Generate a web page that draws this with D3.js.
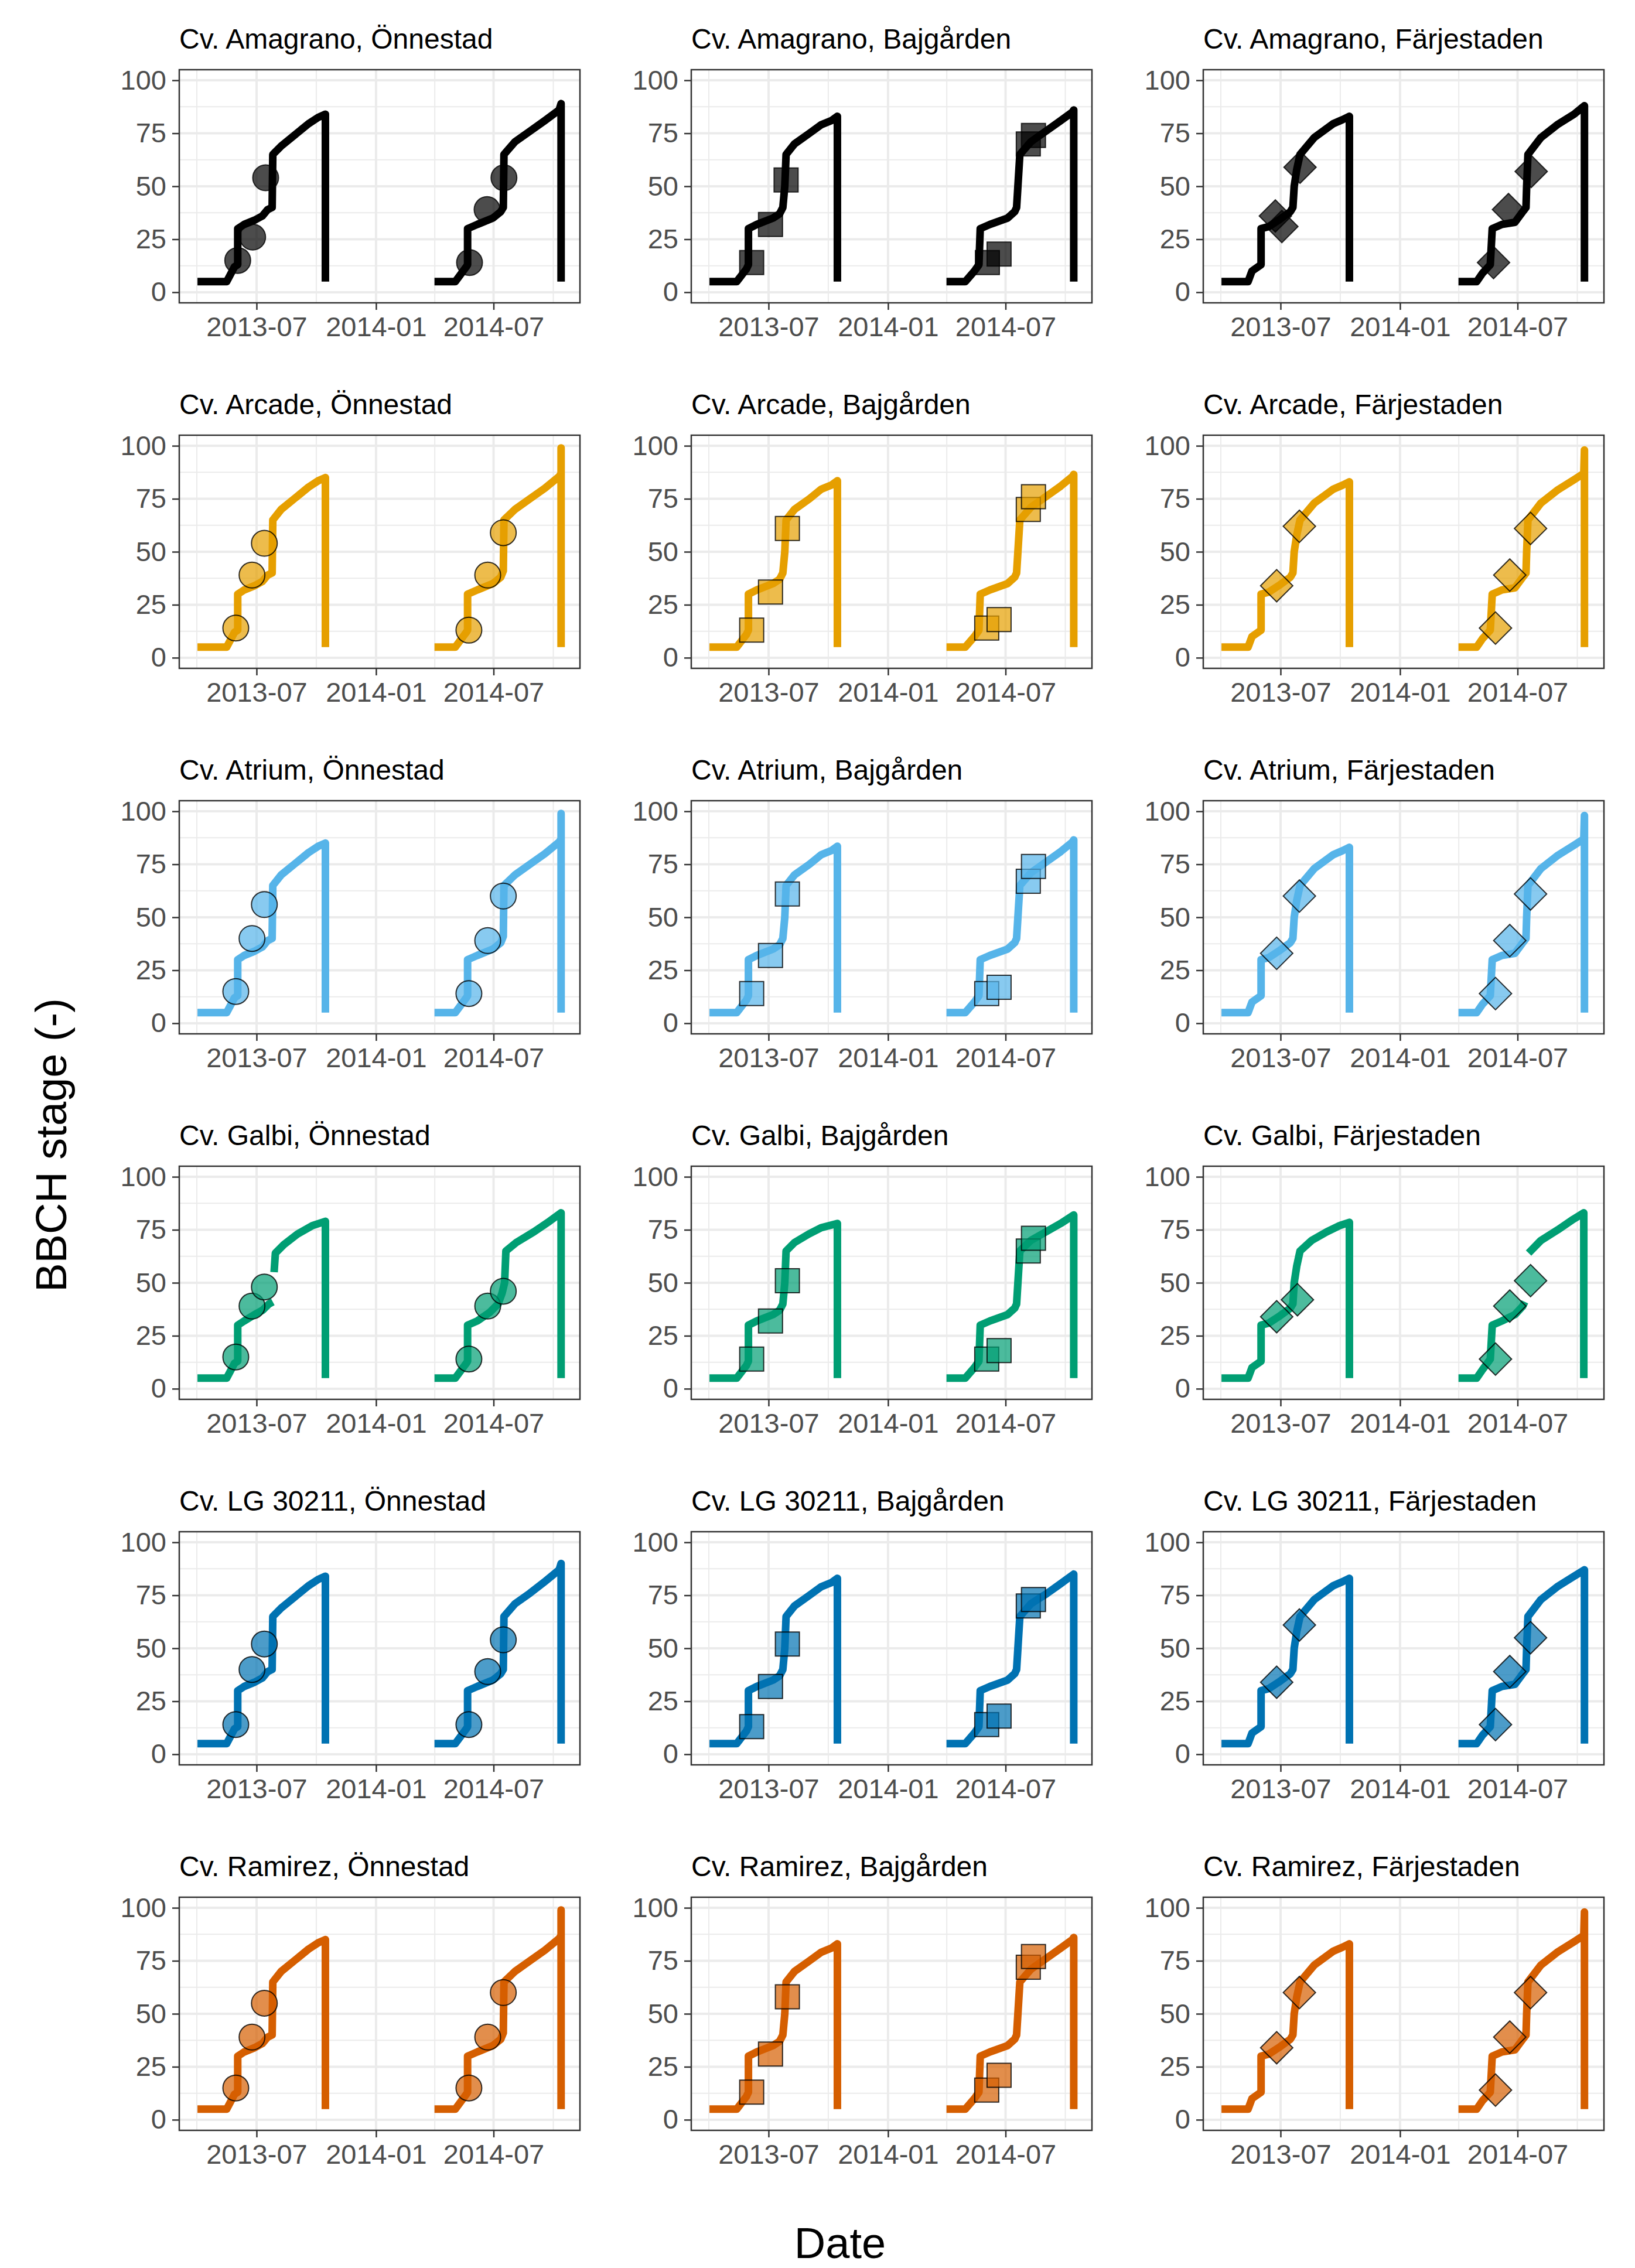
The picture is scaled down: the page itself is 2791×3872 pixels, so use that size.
<!DOCTYPE html>
<html lang="en">
<head>
<meta charset="UTF-8">
<title>BBCH stage by cultivar and site</title>
<script src="https://d3js.org/d3.v7.min.js"></script>
<style>
  body { margin: 0; background: #fff; }
  text { font-family: "Liberation Sans", Arial, Helvetica, sans-serif; }
</style>
</head>
<body>
<script>
// ---- data ----
var cultivars = ["Amagrano", "Arcade", "Atrium", "Galbi", "LG 30211", "Ramirez"];
var sites = ["Önnestad", "Bajgården", "Färjestaden"];
var cultivarColors = ["#000000", "#E69F00", "#56B4E9", "#009E73", "#0072B2", "#D55E00"];
var siteShapes = ["circle", "square", "diamond"];
var seasons = ["2013", "2014"];
var xTicks = ["2013-07-01", "2014-01-01", "2014-07-01"];
var yTicks = [0, 25, 50, 75, 100];
var yLimits = [0, 100];

// simulated BBCH lines, "MM-DD:value" per season, "/" = break in the line
var onnestadLines = [
  ["04-01:5 05-16:5 05-28:12 06-02:13 06-02:30 06-12:32 06-28:34 07-10:36 07-18:39 07-25:40 07-26:65 08-08:69 09-01:75 09-19:79.5 10-04:82.5 10-15:84 10-15:5",
   "04-01:5 05-03:5 05-20:12 05-22:13 05-22:30 06-06:32 06-30:35 07-12:38 07-16:40 07-17:65 08-03:71 08-26:76 09-18:81 10-10:86 10-13:89 10-13:5"],
  ["04-01:5 05-16:5 05-28:12 06-02:13 06-02:30 06-12:32 06-28:34 07-10:36 07-18:39 07-25:40 07-26:65 08-08:70 09-01:76 09-19:80.5 10-04:83.5 10-15:85 10-15:5",
   "04-01:5 05-03:5 05-20:12 05-22:13 05-22:30 06-06:32 06-30:35 07-12:38 07-16:41 07-17:65 08-03:70 08-26:75 09-18:80 10-10:85.5 10-13:87 10-13:99 10-13:5"],
  ["04-01:5 05-16:5 05-28:12 06-02:13 06-02:30 06-12:32 06-28:34 07-10:36 07-18:39 07-25:40 07-26:65 08-08:70 09-01:76 09-19:80.5 10-04:83.5 10-15:85 10-15:5",
   "04-01:5 05-03:5 05-20:12 05-22:13 05-22:30 06-06:32 06-30:35 07-12:38 07-16:41 07-17:65 08-03:70 08-26:75 09-18:80 10-10:85.5 10-13:87 10-13:99 10-13:5"],
  ["04-01:5 05-16:5 05-28:12 06-02:13 06-02:30 06-12:32 06-28:35 07-10:37 07-20:40 07-26:41 / 07-28:55 07-30:64 08-12:68 09-02:73 09-25:77 10-15:79 10-15:5",
   "04-01:5 05-03:5 05-20:12 05-22:13 05-22:30 06-06:32 06-25:36 07-08:40 07-14:45 07-18:50 07-20:65 08-05:69 09-01:74 09-25:79 10-13:83 10-13:5"],
  ["04-01:5 05-16:5 05-28:12 06-02:13 06-02:30 06-12:32 06-28:34 07-10:36 07-18:39 07-25:40 07-26:65 08-08:69 09-01:75 09-19:79.5 10-04:82.5 10-15:84 10-15:5",
   "04-01:5 05-03:5 05-20:12 05-22:13 05-22:30 06-06:32 06-30:35 07-12:38 07-16:40 07-17:65 08-03:71 08-26:76 09-18:81.5 10-10:87 10-13:90 10-13:5"],
  ["04-01:5 05-16:5 05-28:12 06-02:13 06-02:30 06-12:32 06-28:34 07-10:36 07-18:39 07-25:40 07-26:65 08-08:70 09-01:76 09-19:80.5 10-04:83.5 10-15:85 10-15:5",
   "04-01:5 05-03:5 05-20:12 05-22:13 05-22:30 06-06:32 06-30:35 07-12:38 07-16:41 07-17:65 08-03:70 08-26:75 09-18:80 10-10:85.5 10-13:87 10-13:99 10-13:5"]
];
var bajgardenLines = [
  ["04-01:5 05-13:5 05-28:11 05-31:13 05-31:30 06-13:32 07-08:35 07-18:37 07-23:40 07-26:50 07-28:65 08-10:70 09-02:75 09-20:79 10-06:81 10-15:83 10-15:5",
   "04-01:5 04-30:5 05-14:10 05-21:13 05-23:30 06-07:32 07-04:35 07-15:38 07-18:40 07-20:50 07-23:65 08-09:71 09-01:76 09-24:81 10-12:85 10-14:86 10-14:5"],
  ["04-01:5 05-13:5 05-28:11 05-31:13 05-31:30 06-13:32 07-08:35 07-18:37 07-23:40 07-26:50 07-28:65 08-10:70 09-02:75 09-20:79.5 10-06:81.5 10-15:83.5 10-15:5",
   "04-01:5 04-30:5 05-14:10 05-21:13 05-23:30 06-07:32 07-04:35 07-15:38 07-18:40 07-20:50 07-23:65 08-09:71 09-01:76 09-24:81 10-12:85.5 10-14:86.5 10-14:5"],
  ["04-01:5 05-13:5 05-28:11 05-31:13 05-31:30 06-13:32 07-08:35 07-18:37 07-23:40 07-26:50 07-28:65 08-10:70 09-02:75 09-20:79.5 10-06:81.5 10-15:83.5 10-15:5",
   "04-01:5 04-30:5 05-14:10 05-21:13 05-23:30 06-07:32 07-04:35 07-15:38 07-18:40 07-20:50 07-23:65 08-09:71 09-01:76 09-24:81 10-12:85.5 10-14:86.5 10-14:5"],
  ["04-01:5 05-13:5 05-28:11 05-31:13 05-31:30 06-13:32 07-08:35 07-18:37 07-23:40 07-26:50 07-28:65 08-10:69 09-01:73 09-20:76 10-15:78 10-15:5",
   "04-01:5 04-30:5 05-14:10 05-21:13 05-23:30 06-07:32 07-04:35 07-15:38 07-18:40 07-20:50 07-23:65 08-09:70 09-01:74 09-24:78 10-14:82 10-14:5"],
  ["04-01:5 05-13:5 05-28:11 05-31:13 05-31:30 06-13:32 07-08:35 07-18:37 07-23:40 07-26:50 07-28:65 08-10:70 09-02:75 09-20:79 10-06:81 10-15:83 10-15:5",
   "04-01:5 04-30:5 05-14:10 05-21:13 05-23:30 06-07:32 07-04:35 07-15:38 07-18:40 07-20:50 07-23:65 08-09:71 09-01:75.5 09-24:80.5 10-14:85 10-14:5"],
  ["04-01:5 05-13:5 05-28:11 05-31:13 05-31:30 06-13:32 07-08:35 07-18:37 07-23:40 07-26:50 07-28:65 08-10:70 09-02:75 09-20:79 10-06:81 10-15:83 10-15:5",
   "04-01:5 04-30:5 05-14:10 05-21:13 05-23:30 06-07:32 07-04:35 07-15:38 07-18:40 07-20:50 07-23:65 08-09:71 09-01:76 09-24:81 10-12:85 10-14:86 10-14:5"]
];
var farjestadenLines = [
  ["04-01:5 05-12:5 05-18:10 06-01:13 06-01:30 06-13:31 06-28:34 07-16:38 07-20:40 07-22:50 07-26:58 07-31:65 08-22:73 09-20:79.5 10-05:81.5 10-15:83 10-15:5",
   "04-01:5 04-29:5 05-08:9 05-20:13 05-23:30 06-07:32 06-27:33 07-09:38 07-14:40 07-15:50 07-17:65 08-06:73 08-31:79 09-26:84 10-08:87 10-12:88 10-12:5"],
  ["04-01:5 05-12:5 05-18:10 06-01:13 06-01:30 06-13:31 06-28:34 07-16:38 07-20:40 07-22:50 07-26:58 07-31:65 08-22:73 09-20:79.5 10-05:81.5 10-15:83 10-15:5",
   "04-01:5 04-29:5 05-08:9 05-20:13 05-23:30 06-07:32 06-27:33 07-09:38 07-14:40 07-15:50 07-17:65 08-06:73 08-31:79 09-26:84 10-11:87 10-12:98 10-12:5"],
  ["04-01:5 05-12:5 05-18:10 06-01:13 06-01:30 06-13:31 06-28:34 07-16:38 07-20:40 07-22:50 07-26:58 07-31:65 08-22:73 09-20:79.5 10-05:81.5 10-15:83 10-15:5",
   "04-01:5 04-29:5 05-08:9 05-20:13 05-23:30 06-07:32 06-27:33 07-09:38 07-14:40 07-15:50 07-17:65 08-06:73 08-31:79 09-26:84 10-11:87 10-12:98 10-12:5"],
  ["04-01:5 05-12:5 05-18:10 06-01:13 06-01:30 06-13:31 06-28:34 07-16:38 07-20:40 07-22:50 07-26:58 07-31:65 08-18:70 09-10:74 09-30:77 10-15:78.5 10-15:5",
   "04-01:5 04-29:5 05-08:9 05-20:14 05-23:30 06-07:32 06-27:35 07-09:39 07-12:41 / 07-18:64 08-06:70 09-01:75 09-25:80 10-11:83 10-11:5"],
  ["04-01:5 05-12:5 05-18:10 06-01:13 06-01:30 06-13:31 06-28:34 07-16:38 07-20:40 07-22:50 07-26:58 07-31:65 08-22:73 09-20:79.5 10-05:81.5 10-15:83 10-15:5",
   "04-01:5 04-29:5 05-08:9 05-20:13 05-23:30 06-07:32 06-27:33 07-09:38 07-14:40 07-15:50 07-17:65 08-06:73 08-31:79 09-26:84 10-12:87 10-12:5"],
  ["04-01:5 05-12:5 05-18:10 06-01:13 06-01:30 06-13:31 06-28:34 07-16:38 07-20:40 07-22:50 07-26:58 07-31:65 08-22:73 09-20:79.5 10-05:81.5 10-15:83 10-15:5",
   "04-01:5 04-29:5 05-08:9 05-20:13 05-23:30 06-07:32 06-27:33 07-09:38 07-14:40 07-15:50 07-17:65 08-06:73 08-31:79 09-26:84 10-11:87 10-12:98 10-12:5"]
];

// observed BBCH stages, "YYYY-MM-DD:value"
var onnestadObs = [
  "2013-06-02:15 2013-06-25:26 2013-07-15:54 2014-05-25:14 2014-06-21:39 2014-07-17:54",
  "2013-05-30:14 2013-06-24:39 2013-07-13:54 2014-05-24:13 2014-06-22:39 2014-07-16:59",
  "2013-05-30:15 2013-06-24:40 2013-07-13:56 2014-05-24:14 2014-06-22:39 2014-07-16:60",
  "2013-05-30:15 2013-06-24:39 2013-07-13:48 2014-05-24:14 2014-06-22:39 2014-07-16:46",
  "2013-05-30:14 2013-06-24:40 2013-07-13:52 2014-05-24:14 2014-06-22:39 2014-07-16:54",
  "2013-05-30:15 2013-06-24:39 2013-07-13:55 2014-05-24:15 2014-06-22:39 2014-07-16:60"
];
var bajgardenObs = [
  "2013-06-05:14 2013-07-04:32 2013-07-28:53 2014-06-03:14 2014-06-21:18 2014-08-05:70 2014-08-13:74",
  "2013-06-05:13 2013-07-04:31 2013-07-30:61 2014-06-02:14 2014-06-21:18 2014-08-05:70 2014-08-13:76",
  "2013-06-05:14 2013-07-04:32 2013-07-30:61 2014-06-02:14 2014-06-21:17 2014-08-05:67 2014-08-13:74",
  "2013-06-05:14 2013-07-04:32 2013-07-30:51 2014-06-02:14 2014-06-21:18 2014-08-05:65 2014-08-13:71",
  "2013-06-05:13 2013-07-04:32 2013-07-30:52 2014-06-02:14 2014-06-21:18 2014-08-05:70 2014-08-13:73",
  "2013-06-05:13 2013-07-04:31 2013-07-30:58 2014-06-02:14 2014-06-21:21 2014-08-05:72 2014-08-13:77"
];
var farjestadenObs = [
  "2013-06-23:36 2013-07-03:31 2013-07-31:59 2014-05-25:14 2014-06-17:39 2014-07-22:57",
  "2013-06-25:34 2013-07-30:62 2014-05-28:14 2014-06-19:39 2014-07-21:61",
  "2013-06-25:33 2013-07-30:60 2014-05-28:14 2014-06-19:39 2014-07-21:61",
  "2013-06-25:34 2013-07-27:42 2014-05-28:14 2014-06-19:39 2014-07-21:51",
  "2013-06-25:34 2013-07-30:61 2014-05-28:14 2014-06-19:39 2014-07-21:55",
  "2013-06-25:34 2013-07-30:60 2014-05-28:14 2014-06-19:39 2014-07-21:60"
];

// ---- layout ----
var width = 2791, height = 3872;
var panelW = 684, panelH = 398;
var colX = [306, 1180, 2054];
var rowY0 = 119, rowStep = 624;

var parseDay = d3.timeParse("%Y-%m-%d");
var fmtTick = d3.timeFormat("%Y-%m");

function parseLine(year, s) {
  return s.split(" ").map(function (tok) {
    if (tok === "/") return null;
    var p = tok.split(":");
    return { date: parseDay(year + "-" + p[0]), value: +p[1] };
  });
}
function parseObs(s) {
  return s.split(" ").map(function (tok) {
    var p = tok.split(":");
    return { date: parseDay(p[0]), value: +p[1] };
  });
}

var lineSets = [onnestadLines, bajgardenLines, farjestadenLines];
var obsSets = [onnestadObs, bajgardenObs, farjestadenObs];

// parsed series per panel
var panels = [];
cultivars.forEach(function (cv, r) {
  sites.forEach(function (site, c) {
    panels.push({
      row: r, col: c, cultivar: cv, site: site,
      color: cultivarColors[r], shape: siteShapes[c],
      lines: seasons.map(function (yr, k) { return parseLine(yr, lineSets[c][r][k]); }),
      obs: parseObs(obsSets[c][r])
    });
  });
});

// x domain: data range expanded by 5% on each side (as ggplot does)
var allDates = [];
panels.forEach(function (p) {
  p.lines.forEach(function (l) { l.forEach(function (d) { if (d) allDates.push(d.date); }); });
});
var ext = d3.extent(allDates);
var pad = (ext[1] - ext[0]) * 0.05;
var x = d3.scaleTime()
  .domain([new Date(+ext[0] - pad), new Date(+ext[1] + pad)])
  .range([0, panelW]);
var yPad = (yLimits[1] - yLimits[0]) * 0.05;
var y = d3.scaleLinear()
  .domain([yLimits[0] - yPad, yLimits[1] + yPad])
  .range([panelH, 0]);

var xMajor = xTicks.map(parseDay);
var step = xMajor[1] - xMajor[0];
var xMinor = [new Date(+xMajor[0] - step / 2)];
for (var i = 0; i < xMajor.length - 1; i++) xMinor.push(new Date((+xMajor[i] + +xMajor[i + 1]) / 2));
xMinor.push(new Date(+xMajor[xMajor.length - 1] + step / 2));
xMinor = xMinor.filter(function (d) { return d >= x.domain()[0] && d <= x.domain()[1]; });
var yMinor = [12.5, 37.5, 62.5, 87.5];

var svg = d3.select("body").append("svg")
  .attr("width", width)
  .attr("height", height);

svg.append("rect").attr("width", width).attr("height", height).attr("fill", "#ffffff");

var line = d3.line()
  .defined(function (d) { return d !== null; })
  .x(function (d) { return x(d.date); })
  .y(function (d) { return y(d.value); });

var symbolFor = {
  circle: d3.symbol().type(d3.symbolCircle).size(Math.PI * 22 * 22),
  square: d3.symbol().type(d3.symbolSquare).size(41 * 41),
  diamond: d3.symbol().type(d3.symbolSquare).size(39 * 39)
};

panels.forEach(function (p) {
  var g = svg.append("g")
    .attr("transform", "translate(" + colX[p.col] + "," + (rowY0 + p.row * rowStep) + ")");

  // strip title
  g.append("text")
    .attr("x", 0)
    .attr("y", -36)
    .attr("font-size", 48)
    .attr("fill", "#000")
    .text("Cv. " + p.cultivar + ", " + p.site);

  // grid
  var grid = g.append("g");
  grid.selectAll(".ymin").data(yMinor).enter().append("line")
    .attr("x1", 0).attr("x2", panelW)
    .attr("y1", function (d) { return y(d); }).attr("y2", function (d) { return y(d); })
    .attr("stroke", "#EBEBEB").attr("stroke-width", 2);
  grid.selectAll(".xmin").data(xMinor).enter().append("line")
    .attr("y1", 0).attr("y2", panelH)
    .attr("x1", function (d) { return x(d); }).attr("x2", function (d) { return x(d); })
    .attr("stroke", "#EBEBEB").attr("stroke-width", 2);
  grid.selectAll(".ymaj").data(yTicks).enter().append("line")
    .attr("x1", 0).attr("x2", panelW)
    .attr("y1", function (d) { return y(d); }).attr("y2", function (d) { return y(d); })
    .attr("stroke", "#EBEBEB").attr("stroke-width", 4);
  grid.selectAll(".xmaj").data(xMajor).enter().append("line")
    .attr("y1", 0).attr("y2", panelH)
    .attr("x1", function (d) { return x(d); }).attr("x2", function (d) { return x(d); })
    .attr("stroke", "#EBEBEB").attr("stroke-width", 4);

  // simulated lines
  g.selectAll("path.sim").data(p.lines).enter().append("path")
    .attr("class", "sim")
    .attr("d", line)
    .attr("fill", "none")
    .attr("stroke", p.color)
    .attr("stroke-width", 13)
    .attr("stroke-linejoin", "round")
    .attr("stroke-linecap", "butt");

  // observations
  g.selectAll("path.obs").data(p.obs).enter().append("path")
    .attr("class", "obs")
    .attr("d", symbolFor[p.shape])
    .attr("transform", function (d) {
      return "translate(" + x(d.date) + "," + y(d.value) + ")" + (p.shape === "diamond" ? " rotate(45)" : "");
    })
    .attr("fill", p.color)
    .attr("fill-opacity", 0.7)
    .attr("stroke", "#000")
    .attr("stroke-opacity", 0.8)
    .attr("stroke-width", 2);

  // border
  g.append("rect")
    .attr("width", panelW).attr("height", panelH)
    .attr("fill", "none").attr("stroke", "#333333").attr("stroke-width", 2.5);

  // axes
  var xa = g.append("g").attr("transform", "translate(0," + panelH + ")")
    .call(d3.axisBottom(x).tickValues(xMajor).tickFormat(fmtTick).tickSize(12).tickPadding(12));
  var ya = g.append("g")
    .call(d3.axisLeft(y).tickValues(yTicks).tickSize(12).tickPadding(10));
  [xa, ya].forEach(function (a) {
    a.select(".domain").remove();
    a.selectAll(".tick line").attr("stroke", "#333333").attr("stroke-width", 2.5);
    a.selectAll(".tick text")
      .attr("fill", "#4D4D4D")
      .attr("font-size", 47)
      .attr("font-family", "'Liberation Sans', Arial, sans-serif");
  });
});

// axis titles
svg.append("text")
  .attr("transform", "translate(113,1955) rotate(-90)")
  .attr("text-anchor", "middle")
  .attr("font-size", 74)
  .attr("fill", "#000")
  .text("BBCH stage (-)");

svg.append("text")
  .attr("x", 1434)
  .attr("y", 3855)
  .attr("text-anchor", "middle")
  .attr("font-size", 74)
  .attr("fill", "#000")
  .text("Date");
</script>
</body>
</html>
